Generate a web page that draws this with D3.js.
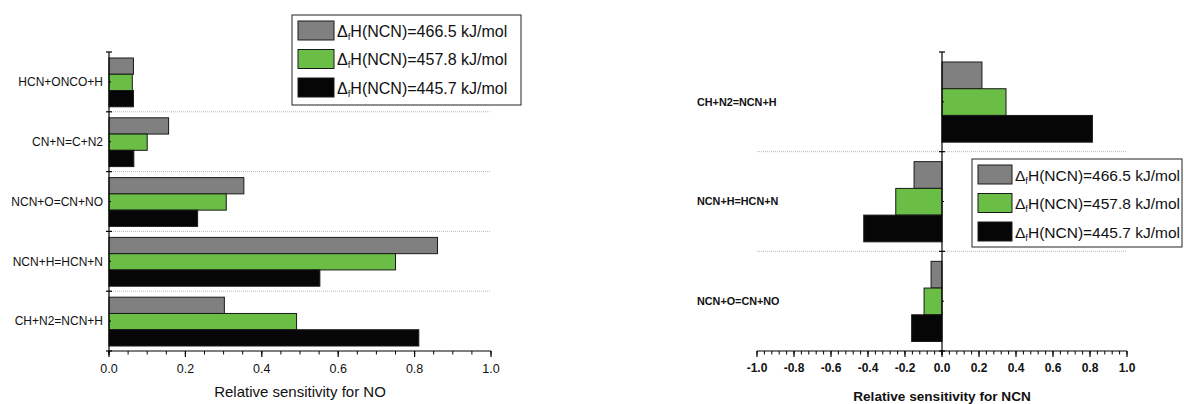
<!DOCTYPE html>
<html>
<head>
<meta charset="utf-8">
<script src="https://cdn.jsdelivr.net/npm/d3@7"></script>
<style>
  body { margin: 0; background: #fff; }
  svg { display: block; font-family: "Liberation Sans", Arial, sans-serif; }
</style>
</head>
<body>
<div id="chart"></div>
<script>
// series (same for both panels)
const seriesNames = ["466.5", "457.8", "445.7"];
const seriesColors = ["#808080", "#6abd45", "#060606"];

// left panel: sensitivity for NO
const noReactions = ["HCN+ONCO+H", "CN+N=C+N2", "NCN+O=CN+NO", "NCN+H=HCN+N", "CH+N2=NCN+H"];
const no466 = [0.064, 0.156, 0.353, 0.860, 0.302];
const no457 = [0.061, 0.100, 0.307, 0.750, 0.491];
const no445 = [0.064, 0.065, 0.232, 0.552, 0.811];
const noTicks = [0, 0.2, 0.4, 0.6, 0.8, 1.0];

// right panel: sensitivity for NCN
const ncnReactions = ["CH+N2=NCN+H", "NCN+H=HCN+N", "NCN+O=CN+NO"];
const ncn466 = [0.216, -0.151, -0.059];
const ncn457 = [0.346, -0.250, -0.097];
const ncn445 = [0.813, -0.423, -0.164];
const ncnTicks = [-1.0, -0.8, -0.6, -0.4, -0.2, 0.0, 0.2, 0.4, 0.6, 0.8, 1.0];

const W = 1184, H = 404;
const svg = d3.select("#chart").append("svg")
    .attr("width", W).attr("height", H);

function drawPanel(cfg) {
    const g = svg.append("g");
    const x = d3.scaleLinear().domain(cfg.domain).range(cfg.xRange);
    const y = d3.scaleBand().domain(cfg.cats).range(cfg.yRange).paddingInner(0).paddingOuter(0);
    const ySub = d3.scaleBand().domain(seriesNames)
        .range([cfg.subPad[0], y.bandwidth() - cfg.subPad[1]]).padding(0);

    const rows = cfg.cats.map((c, i) => ({
        cat: c,
        vals: cfg.values.map((arr, k) => ({ key: seriesNames[k], color: seriesColors[k], v: arr[i] }))
    }));

    // dotted separators between categories
    g.selectAll("line.sep")
        .data(cfg.cats.slice(1))
        .join("line")
        .attr("class", "sep")
        .attr("x1", cfg.sepX[0]).attr("x2", cfg.sepX[1])
        .attr("y1", d => y(d)).attr("y2", d => y(d))
        .attr("stroke", "#b8b8b8").attr("stroke-width", 1)
        .attr("stroke-dasharray", "1,1");

    // bars
    const groups = g.selectAll("g.cat")
        .data(rows)
        .join("g")
        .attr("class", "cat")
        .attr("transform", d => `translate(0,${y(d.cat)})`);

    groups.selectAll("rect")
        .data(d => d.vals)
        .join("rect")
        .attr("x", d => Math.min(x(0), x(d.v)))
        .attr("width", d => Math.abs(x(d.v) - x(0)))
        .attr("y", d => ySub(d.key))
        .attr("height", ySub.bandwidth())
        .attr("fill", d => d.color)
        .attr("stroke", "#1a1a1a")
        .attr("stroke-width", 1);

    // x axis with major labels and minor ticks
    const xAxisG = g.append("g").attr("transform", `translate(0,${cfg.yRange[1]})`);
    xAxisG.append("line")
        .attr("x1", cfg.xRange[0]).attr("x2", cfg.xRange[1])
        .attr("stroke", "#000").attr("stroke-width", 1.2);
    const minor = d3.range(cfg.domain[0], cfg.domain[1] + 1e-9, cfg.minorStep);
    xAxisG.selectAll("line.minor")
        .data(minor)
        .join("line")
        .attr("class", "minor")
        .attr("x1", d => x(d)).attr("x2", d => x(d))
        .attr("y1", 0).attr("y2", 3.5)
        .attr("stroke", "#000");
    xAxisG.selectAll("line.major")
        .data(cfg.ticks)
        .join("line")
        .attr("class", "major")
        .attr("x1", d => x(d)).attr("x2", d => x(d))
        .attr("y1", 0).attr("y2", 6)
        .attr("stroke", "#000").attr("stroke-width", 1.2);
    xAxisG.selectAll("text")
        .data(cfg.ticks)
        .join("text")
        .attr("x", d => x(d))
        .attr("y", cfg.tickLabelY)
        .attr("text-anchor", "middle")
        .attr("font-size", cfg.tickFont)
        .attr("font-weight", cfg.bold ? "bold" : "normal")
        .attr("fill", "#111")
        .text(d => d3.format(".1f")(d).replace("−", "-"));

    g.append("text")
        .attr("x", cfg.titleX).attr("y", cfg.titleY)
        .attr("text-anchor", "middle")
        .attr("font-size", cfg.titleFont)
        .attr("font-weight", cfg.bold ? "bold" : "normal")
        .attr("fill", "#111")
        .text(cfg.title);

    // y axis line and ticks at band edges
    const x0 = x(cfg.axisAt);
    g.append("line")
        .attr("x1", x0).attr("x2", x0)
        .attr("y1", cfg.yRange[0]).attr("y2", cfg.yRange[1] + 4)
        .attr("stroke", "#000").attr("stroke-width", 1.2);
    const edges = cfg.cats.map(c => y(c)).concat([cfg.yRange[1]]);
    g.selectAll("line.ytick")
        .data(edges)
        .join("line")
        .attr("class", "ytick")
        .attr("x1", x0 - 3).attr("x2", x0 + 3)
        .attr("y1", d => d).attr("y2", d => d)
        .attr("stroke", "#000").attr("stroke-width", 1.2);
    g.selectAll("line.ymid")
        .data(cfg.cats)
        .join("line")
        .attr("class", "ymid")
        .attr("x1", x0).attr("x2", x0 + 2)
        .attr("y1", d => y(d) + y.bandwidth() / 2).attr("y2", d => y(d) + y.bandwidth() / 2)
        .attr("stroke", "#000");

    // category labels
    g.selectAll("text.cat")
        .data(cfg.cats)
        .join("text")
        .attr("class", "cat")
        .attr("x", cfg.labelX)
        .attr("y", d => y(d) + y.bandwidth() / 2)
        .attr("dy", "0.35em")
        .attr("text-anchor", cfg.labelAnchor)
        .attr("font-size", cfg.labelFont)
        .attr("font-weight", cfg.bold ? "bold" : "normal")
        .attr("fill", "#111")
        .text(d => d);

    // legend
    const lg = svg.append("g").attr("transform", `translate(${cfg.legend.x},${cfg.legend.y})`);
    lg.append("rect")
        .attr("width", cfg.legend.w).attr("height", cfg.legend.h)
        .attr("fill", "#fff").attr("stroke", "#222").attr("stroke-width", 1);
    const fs = cfg.legend.font;
    seriesNames.forEach((s, k) => {
        const yy = 6 + k * 28.5;
        lg.append("rect")
            .attr("x", 6).attr("y", yy)
            .attr("width", cfg.legend.sw).attr("height", 19)
            .attr("fill", seriesColors[k]).attr("stroke", "#1a1a1a");
        const t = lg.append("text")
            .attr("x", cfg.legend.sw + 9).attr("y", yy + 15.5)
            .attr("font-size", fs).attr("fill", "#111");
        t.append("tspan").text("\u0394");
        t.append("tspan").attr("font-size", fs * 0.6).attr("dy", 3).text("f");
        t.append("tspan").attr("dy", -3).text(`H(NCN)=${s} kJ/mol`);
    });
}

drawPanel({
    cats: noReactions,
    values: [no466, no457, no445],
    domain: [0, 1],
    xRange: [109, 491],
    yRange: [52, 351],
    subPad: [6, 5],
    ticks: noTicks,
    minorStep: 0.05,
    axisAt: 0,
    sepX: [109, 491],
    tickLabelY: 22,
    tickFont: 12.5,
    title: "Relative sensitivity for NO",
    titleX: 300, titleY: 397,
    titleFont: 15,
    labelX: 103, labelAnchor: "end", labelFont: 12,
    bold: false,
    legend: { x: 292, y: 15, w: 229, h: 90, sw: 36, font: 16 }
});

drawPanel({
    cats: ncnReactions,
    values: [ncn466, ncn457, ncn445],
    domain: [-1, 1],
    xRange: [757, 1127],
    yRange: [52, 351],
    subPad: [10, 9.5],
    ticks: ncnTicks,
    minorStep: 0.04,
    axisAt: 0,
    sepX: [757, 1127],
    tickLabelY: 21,
    tickFont: 12,
    title: "Relative sensitivity for NCN",
    titleX: 942, titleY: 401,
    titleFont: 13.6,
    labelX: 697, labelAnchor: "start", labelFont: 10.8,
    bold: true,
    legend: { x: 972, y: 159, w: 210, h: 88, sw: 34, font: 15.5 }
});
</script>
</body>
</html>
